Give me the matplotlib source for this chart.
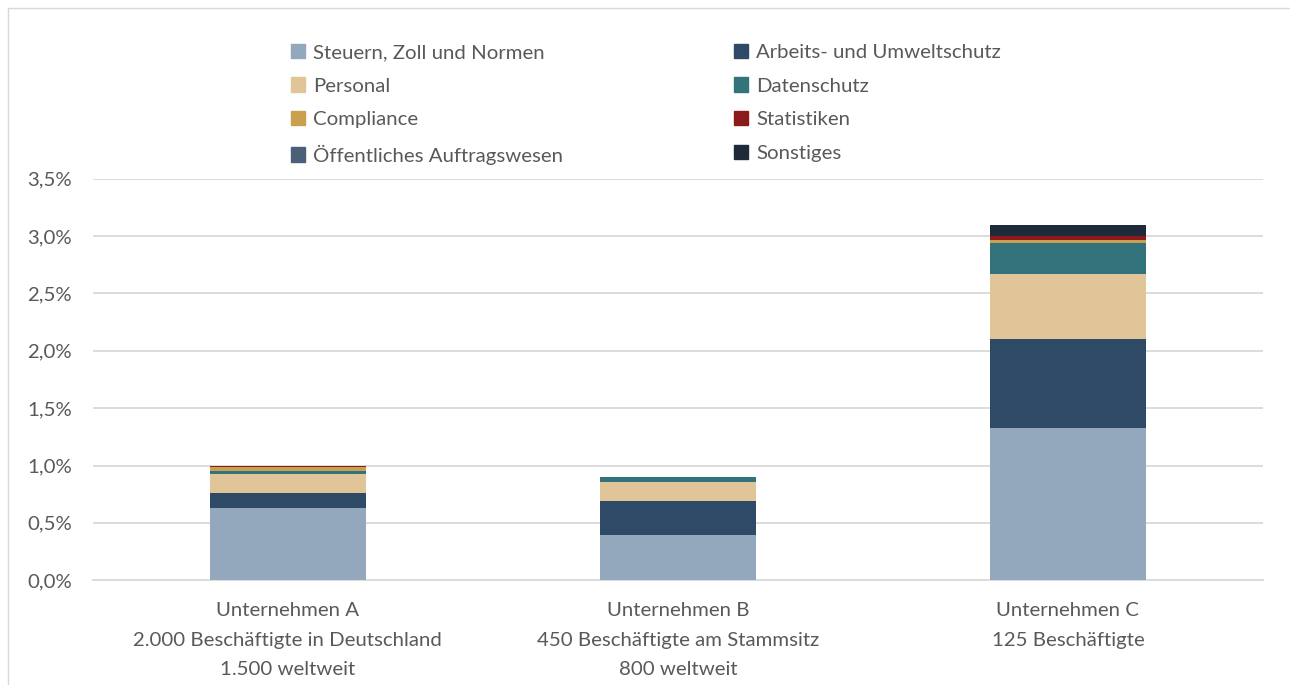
import matplotlib
matplotlib.use('Agg')
import matplotlib.pyplot as plt
from matplotlib.patches import Rectangle, Patch
from matplotlib.ticker import FuncFormatter, MultipleLocator
import numpy as np

plt.rcParams['font.family'] = ['Lato', 'DejaVu Sans']

# Daten (Anteil in %)
firmen = ['Unternehmen A\n2.000 Beschäftigte in Deutschland\n1.500 weltweit',
          'Unternehmen B\n450 Beschäftigte am Stammsitz\n800 weltweit',
          'Unternehmen C\n125 Beschäftigte']
kategorien = ['Steuern, Zoll und Normen', 'Arbeits- und Umweltschutz', 'Personal',
              'Datenschutz', 'Compliance', 'Statistiken',
              'Öffentliches Auftragswesen', 'Sonstiges']
steuern = [0.63, 0.39, 1.33]
arbeit = [0.13, 0.30, 0.77]
personal = [0.17, 0.165, 0.57]
datenschutz = [0.02, 0.045, 0.27]
compliance = [0.035, 0.0, 0.03]
statistiken = [0.008, 0.0, 0.03]
oeffentlich = [0.007, 0.0, 0.0]
sonstiges = [0.0, 0.0, 0.10]
werte = [steuern, arbeit, personal, datenschutz, compliance, statistiken,
         oeffentlich, sonstiges]
farben = ['#93A8BC', '#2E4A66', '#E0C599', '#33737B', '#C9A04D', '#8B1A1A',
          '#4A6079', '#1E2A3A']

TXT = '#595959'
FS = 14.7

fig = plt.figure(figsize=(12.9, 6.85), dpi=100)
ax = fig.add_axes([0.072, 0.153, 0.907, 0.586])

x = np.arange(len(firmen))
unten = np.zeros(len(firmen))
for w, c in zip(werte, farben):
    w = np.array(w) / 100
    ax.bar(x, w, 0.4, bottom=unten, color=c, zorder=3)
    unten += w

ax.set_xlim(-0.5, 2.5)
ax.set_ylim(0, 0.035)
ax.yaxis.set_major_locator(MultipleLocator(0.005))
ax.yaxis.set_major_formatter(FuncFormatter(lambda v, p: f'{v*100:.1f}%'.replace('.', ',')))
ax.grid(axis='y', color='#D9D9D9', lw=1.3, zorder=0)
for s in ['top', 'right', 'left']:
    ax.spines[s].set_visible(False)
ax.spines['bottom'].set_color('#D9D9D9')
ax.spines['bottom'].set_linewidth(1.3)
ax.tick_params(length=0, labelsize=FS, labelcolor=TXT)
ax.tick_params(axis='y', pad=15)
ax.tick_params(axis='x', pad=16)
ax.set_xticks(x)
ax.set_xticklabels(firmen, linespacing=1.87)

# Legende: zeilenweise Reihenfolge wie im Original
reihenfolge = [0, 2, 4, 6, 1, 3, 5, 7]
handles = [Patch(color=farben[i], label=kategorien[i]) for i in reihenfolge]
leg = fig.legend(handles=handles, ncol=2, loc='upper left', bbox_to_anchor=(0.211, 0.963),
                 frameon=False, fontsize=FS, handlelength=0.7, handleheight=0.7,
                 handletextpad=0.4, columnspacing=8.35, labelspacing=0.8)
for t in leg.get_texts():
    t.set_color(TXT)

# Rahmen
fig.add_artist(Rectangle((8 / 1290, -0.01), 1.0, 1 - 8 / 685 + 0.01,
                         transform=fig.transFigure, fill=False, ec='#D9D9D9', lw=1))

fig.savefig('out.png', dpi=100, facecolor='white')
